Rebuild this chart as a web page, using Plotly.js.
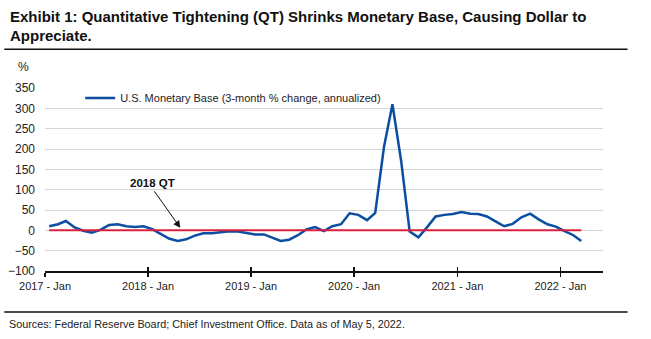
<!DOCTYPE html>
<html>
<head>
<meta charset="utf-8">
<script src="https://cdn.plot.ly/plotly-3.0.1.min.js"></script>
<style>
html,body{margin:0;padding:0;background:#fff;}
#chart{width:651px;height:339px;}
</style>
</head>
<body>
<div id="chart"></div>
<script>
// Monthly observations, Jan 2017 .. Mar 2022
const startYear = 2017;
const monetaryBase = [
  10, 15, 23, 7, -1, -6, 1, 13, 15, 10, 8, 10,        // 2017
  3, -8, -20, -26, -22, -13, -7, -7, -4, -2, -3, -6,   // 2018
  -10, -10, -17, -26, -23, -12, 2, 8, -2, 10, 15, 42, // 2019
  38, 25, 43, 205, 310, 170, -3, -17, 8, 34, 38, 40,   // 2020
  45, 41, 40, 34, 22, 10, 16, 32, 41, 27, 15, 9,       // 2021
  -2, -12, -26                                        // 2022
];
const zeroLine = [0, 0];
const tickVals = ['2017-01-01','2018-01-01','2019-01-01','2020-01-01','2021-01-01','2022-01-01'];
const tickText = ['2017 - Jan','2018 - Jan','2019 - Jan','2020 - Jan','2021 - Jan','2022 - Jan'];
const yTicks = [-100,-50,0,50,100,150,200,250,300,350];
const seriesName = 'U.S. Monetary Base (3-month % change, annualized)';
const titleLines = ['Exhibit 1: Quantitative Tightening (QT) Shrinks Monetary Base, Causing Dollar to', 'Appreciate.'];
const sourceText = 'Sources: Federal Reserve Board; Chief Investment Office. Data as of May 5, 2022.';

const months = monetaryBase.map((_, i) => {
  const y = startYear + Math.floor(i / 12);
  const m = (i % 12) + 1;
  return y + '-' + String(m).padStart(2, '0') + '-16';
});
const zeroX = [months[0], months[months.length - 1]];

const FONT = '"Liberation Sans", Arial, sans-serif';

const traces = [
  {
    x: zeroX, y: zeroLine, xaxis: 'x2', type: 'scatter', mode: 'lines',
    line: {color: '#d9203f', width: 2}, showlegend: false, hoverinfo: 'skip'
  },
  {
    x: months, y: monetaryBase, type: 'scatter', mode: 'lines', name: seriesName,
    line: {color: '#0b4ea2', width: 2.5}
  }
];

const layout = {
  width: 651, height: 339,
  margin: {l: 44.7, r: 48.3, t: 88, b: 67.8},
  paper_bgcolor: '#fff', plot_bgcolor: '#fff',
  font: {family: FONT, size: 12, color: '#222'},
  xaxis: {
    type: 'date', range: ['2017-01-01', '2022-06-01'],
    tickmode: 'array', tickvals: tickVals, ticktext: tickText,
    showgrid: false, zeroline: false,
    showline: true, linecolor: '#111', linewidth: 1.5,
    ticks: 'outside', ticklen: 4, tickwidth: 1.5, tickcolor: '#111',
    tickfont: {family: FONT, size: 11, color: '#222'},
    fixedrange: true
  },
  xaxis2: {
    type: 'date', matches: 'x', overlaying: 'x', anchor: 'y', side: 'bottom',
    tickmode: 'array', tickvals: tickVals, showticklabels: false,
    showgrid: false, zeroline: false, showline: false,
    ticks: 'inside', ticklen: 4, tickwidth: 1.5, tickcolor: '#111'
  },
  yaxis: {
    range: [-100, 350], tickmode: 'array', tickvals: yTicks,
    showgrid: true, gridcolor: '#d3d6d3', gridwidth: 1,
    zeroline: false, showline: false, ticks: '',
    ticklabelstandoff: 9,
    tickfont: {family: FONT, size: 12, color: '#222'},
    fixedrange: true
  },
  showlegend: true,
  legend: {
    x: 0.063, xanchor: 'left', y: 0.945, yanchor: 'middle',
    bgcolor: 'rgba(0,0,0,0)', borderwidth: 0,
    font: {family: FONT, size: 11, color: '#222'}
  },
  shapes: [
    {type: 'line', xref: 'paper', yref: 'paper', x0: -0.073, x1: 1.044, y0: 1.212, y1: 1.212,
     line: {color: '#111', width: 1.5}},
    {type: 'line', xref: 'paper', yref: 'paper', x0: -0.073, x1: 1.044, y0: -0.224, y1: -0.224,
     line: {color: '#111', width: 1.5}}
  ],
  annotations: [
    {text: '<b>' + titleLines[0] + '</b>', xref: 'paper', yref: 'paper', x: -0.066, xanchor: 'left',
     y: 1.3926, yanchor: 'middle', showarrow: false, font: {family: FONT, size: 15, color: '#111'}},
    {text: '<b>' + titleLines[1] + '</b>', xref: 'paper', yref: 'paper', x: -0.066, xanchor: 'left',
     y: 1.2887, yanchor: 'middle', showarrow: false, font: {family: FONT, size: 15, color: '#111'}},
    {text: '%', xref: 'paper', yref: 'paper', x: -0.039, xanchor: 'center', y: 1.113, yanchor: 'middle',
     showarrow: false, font: {family: FONT, size: 12, color: '#222'}},
    {text: '<b>2018 QT</b>', xref: 'paper', yref: 'paper', x: 0.192, xanchor: 'center', y: 0.482,
     yanchor: 'middle', showarrow: false, font: {family: FONT, size: 11.5, color: '#111'}},
    {text: '', xref: 'paper', yref: 'paper', x: 0.2425, y: 0.236, showarrow: true,
     ax: -27, ay: -38, arrowhead: 2, arrowsize: 1.4, arrowwidth: 1, arrowcolor: '#111'},
    {text: sourceText, xref: 'paper', yref: 'paper', x: -0.068, xanchor: 'left', y: -0.288, yanchor: 'middle',
     showarrow: false, font: {family: FONT, size: 10.8, color: '#222'}}
  ]
};

Plotly.newPlot('chart', traces, layout, {displayModeBar: false, staticPlot: true});
</script>
</body>
</html>
